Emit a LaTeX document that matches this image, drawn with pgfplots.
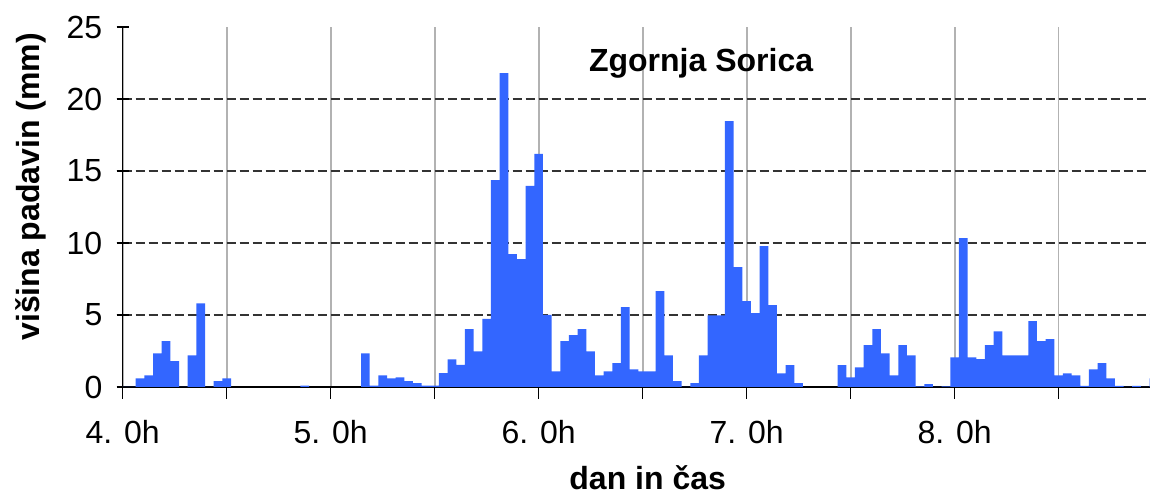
\documentclass[border=0pt]{standalone}
\usepackage{fontspec}
\setmainfont{Liberation Sans}
\usepackage{pgfplots}
\usepackage{pgfplotstable}
\pgfplotsset{compat=1.18}
\definecolor{rainblue}{HTML}{3366FF}
\newcommand{\lbl}{\fontsize{16}{19}\selectfont}

% hourly precipitation, hour 0 = day 4, 0h
\pgfplotstableread{
h mm
0 0
1 0
2 0.6
3 0.81
4 2.34
5 3.18
6 1.79
7 0
8 2.2
9 5.81
10 0
11 0.4
12 0.6
21 0.1
28 2.34
29 0.1
30 0.81
31 0.6
32 0.67
33 0.4
34 0.26
35 0.1
36 0.1
37 0.97
38 1.92
39 1.53
40 4.01
41 2.48
42 4.73
43 14.37
44 21.8
45 9.23
46 8.88
47 13.96
48 16.18
49 5.0
50 1.09
51 3.18
52 3.6
53 4.01
54 2.48
55 0.81
56 1.09
57 1.65
58 5.54
59 1.23
60 1.09
61 1.09
62 6.65
63 2.2
64 0.4
65 0
66 0.26
67 2.2
68 4.98
69 4.98
70 18.47
71 8.32
72 5.96
73 5.13
74 9.78
75 5.68
76 0.95
77 1.51
78 0.26
83 1.51
84 0.67
85 1.37
86 2.9
87 4.01
88 2.34
89 0.81
90 2.9
91 2.2
92 0.05
93 0.2
94 0
95 0.05
96 2.06
97 10.33
98 2.06
99 1.93
100 2.9
101 3.87
102 2.2
103 2.2
104 2.2
105 4.57
106 3.18
107 3.32
108 0.81
109 0.95
110 0.81
111 0.07
112 1.23
113 1.65
114 0.6
115 0.07
116 0
117 0.07
118 0
119 0.6
}\padavine

\begin{document}
\begin{tikzpicture}
\begin{axis}[
  scale only axis, width=513.65pt, height=180pt,
  xmin=0, xmax=118.55, ymin=0, ymax=25,
  axis x line*=bottom, axis y line*=left,
  axis line style={-, black, line width=0.75pt},
  xtick={0,12,...,108},
  xticklabels={4. 0h,,5. 0h,,6. 0h,,7. 0h,,8. 0h,},
  ytick={0,5,...,25},
  major tick length=6pt,
  xtick align=outside, ytick align=center,
  tick style={black, line width=0.75pt},
  xmajorgrids, x grid style={black!30, line width=0.9pt},
  extra y ticks={5,10,15,20}, extra y tick labels={},
  extra y tick style={grid=major,
    y grid style={black!80, dash pattern=on 4.5pt off 2pt, line width=0.7pt}},
  /pgf/number format/assume math mode=true,
  xticklabel style={font=\lbl, anchor=north, inner sep=0pt, yshift=-10.5pt},
  yticklabel style={font=\lbl, anchor=east, inner sep=0pt, xshift=-7pt},
  xlabel={dan in čas},
  xlabel style={at={(axis description cs:0.511,0)}, anchor=north,
    inner sep=0pt, yshift=-39pt, font=\bfseries\lbl},
  ylabel={višina padavin (mm)},
  ylabel style={at={([xshift=-53.85pt]axis description cs:0,0.556)},
    anchor=north, inner sep=0pt, font=\bfseries\lbl},
]
\addplot[ybar, bar width=1, bar shift=0pt, fill=rainblue, draw=none]
  table[x=h, y=mm] {\padavine};
\node[font=\bfseries\lbl, anchor=base] at (rel axis cs:0.563,0.877) {Zgornja Sorica};
\coordinate (SW) at (rel axis cs:0,0);
\coordinate (NE) at (rel axis cs:1,1);
\end{axis}
\pgfresetboundingbox
\path ([xshift=-61.35pt,yshift=-53.65pt]SW) rectangle ([yshift=13.5pt]NE);
\end{tikzpicture}
\end{document}
